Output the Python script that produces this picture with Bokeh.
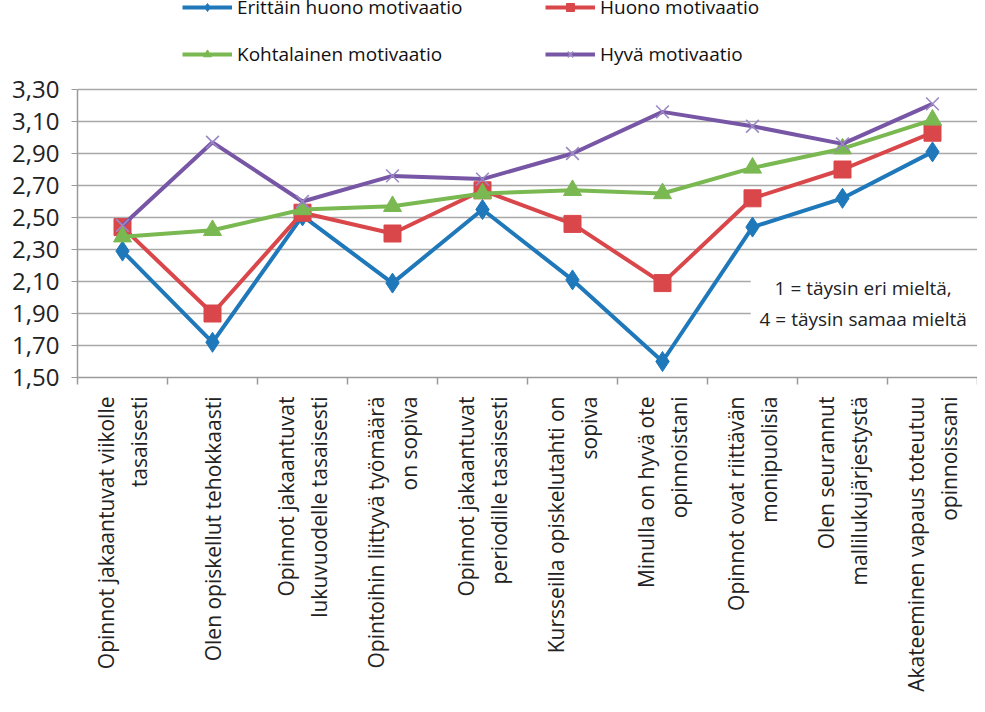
import math
from bokeh.plotting import figure
from bokeh.models import (FixedTicker, CustomJSTickFormatter, Legend, LegendItem,
                          Label, Range1d, ColumnDataSource, BoxAnnotation)
from bokeh.embed import file_html
from bokeh.resources import INLINE

categories = [
    "Opinnot jakaantuvat viikolle\ntasaisesti",
    "Olen opiskellut tehokkaasti",
    "Opinnot jakaantuvat\nlukuvuodelle tasaisesti",
    "Opintoihin liittyvä työmäärä\non sopiva",
    "Opinnot jakaantuvat\nperiodille tasaisesti",
    "Kursseilla opiskelutahti on\nsopiva",
    "Minulla on hyvä ote\nopinnoistani",
    "Opinnot ovat riittävän\nmonipuolisia",
    "Olen seurannut\nmallilukujärjestystä",
    "Akateeminen vapaus toteutuu\nopinnoissani",
]
erittain_huono = [2.29, 1.72, 2.51, 2.09, 2.55, 2.11, 1.60, 2.44, 2.62, 2.91]
huono = [2.44, 1.90, 2.53, 2.40, 2.67, 2.46, 2.09, 2.62, 2.80, 3.03]
kohtalainen = [2.38, 2.42, 2.55, 2.57, 2.65, 2.67, 2.65, 2.81, 2.93, 3.11]
hyva = [2.45, 2.97, 2.60, 2.76, 2.74, 2.90, 3.16, 3.07, 2.96, 3.21]
series_names = ["Erittäin huono motivaatio", "Huono motivaatio",
                "Kohtalainen motivaatio", "Hyvä motivaatio"]
y_ticks = [1.5, 1.7, 1.9, 2.1, 2.3, 2.5, 2.7, 2.9, 3.1, 3.3]
note = "1 = täysin eri mieltä,\n4 = täysin samaa mieltä"

FONT = "Open Sans"
n = len(categories)
xs = [i + 0.5 for i in range(n)]

# the frame also covers the legend area at the top (axis line limited by bounds)
p = figure(width=977, height=704, output_backend="svg", toolbar_location=None,
           x_range=Range1d(0, n), y_range=Range1d(1.5, 3.85625),
           min_border_left=77, min_border_right=0, min_border_top=0,
           min_border_bottom=327)
p.outline_line_color = None
p.background_fill_color = "white"

# axes
p.yaxis.ticker = FixedTicker(ticks=y_ticks)
p.yaxis.bounds = (y_ticks[0], y_ticks[-1])
p.yaxis.formatter = CustomJSTickFormatter(code="return tick.toFixed(2).replace('.', ',');")
p.yaxis.major_label_text_font = FONT
p.yaxis.major_label_text_font_size = "24px"
p.yaxis.major_label_text_color = "#222222"
p.yaxis.axis_line_color = "#9a9a9a"
p.yaxis.axis_line_width = 1.5
p.yaxis.major_tick_line_color = "#9a9a9a"
p.yaxis.major_tick_out = 6
p.yaxis.major_tick_in = 0
p.yaxis.minor_tick_line_color = None
p.yaxis.major_label_standoff = 12

p.xaxis.ticker = FixedTicker(ticks=xs, minor_ticks=list(range(n + 1)))
p.xaxis.formatter = CustomJSTickFormatter(args=dict(labels=categories),
                                          code="return labels[Math.floor(tick)];")
p.xaxis.major_label_orientation = math.pi / 2
p.xaxis.major_label_text_font = FONT
p.xaxis.major_label_text_font_size = "21px"
p.xaxis.major_label_text_color = "#222222"
p.xaxis.major_label_text_align = "center"
p.xaxis.major_label_standoff = 12
p.xaxis.major_tick_line_color = None
p.xaxis.minor_tick_line_color = "#9a9a9a"
p.xaxis.minor_tick_out = 7
p.xaxis.minor_tick_in = 0
p.xaxis.minor_tick_line_width = 1.5
p.xaxis.axis_line_color = "#9a9a9a"
p.xaxis.axis_line_width = 1.5

p.xgrid.grid_line_color = None
p.ygrid.ticker = FixedTicker(ticks=y_ticks)
p.ygrid.grid_line_color = "#a8a8a8"
p.ygrid.grid_line_width = 1.5

colors = ["#1f78b9", "#d9474b", "#7ab851", "#7856a6"]
markers = ["diamond", "square", "triangle", "x"]
sizes = [20, 17, 18, 18]
data = [erittain_huono, huono, kohtalainen, hyva]

legend_items = []
for name, col, mk, sz, vals in zip(series_names, colors, markers, sizes, data):
    src = ColumnDataSource(dict(x=xs, y=vals))
    lr = p.line("x", "y", source=src, line_color=col, line_width=4)
    if mk == "x":
        ls = p.scatter("x", "y", source=src, marker="x", size=sz, line_color="#9a88c4",
                       line_width=1.6)
    else:
        ls = p.scatter("x", "y", source=src, marker=mk, size=sz, fill_color=col,
                       line_color=col)
    legend_items.append(LegendItem(label=name, renderers=[lr, ls]))

def make_legend(items, loc):
    return Legend(items=items, location=loc, orientation="vertical",
                  label_text_font=FONT, label_text_font_size="19px",
                  label_text_color="#111111", glyph_width=50, glyph_height=20,
                  label_height=20, spacing=21, padding=0, margin=0,
                  label_standoff=5, border_line_color=None,
                  background_fill_alpha=0)

p.add_layout(make_legend([legend_items[0], legend_items[2]], (105, 310)), "center")
p.add_layout(make_legend([legend_items[1], legend_items[3]], (468, 310)), "center")

# white box behind the note (hides the grid lines there)
p.add_layout(BoxAnnotation(left=7.48, right=n, bottom=1.79, top=2.18,
                           fill_color="white", fill_alpha=1.0, line_color=None))
p.add_layout(Label(x=8.73, y=1.96, text=note, text_align="center",
                   text_baseline="middle", text_font=FONT,
                   text_font_size="19px", text_color="#222222"))

open("out.html", "w").write(file_html(p, INLINE))
